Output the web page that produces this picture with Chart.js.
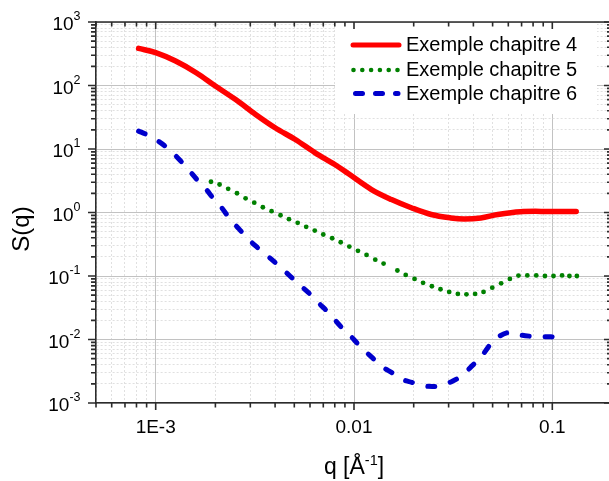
<!DOCTYPE html>
<html>
<head>
<meta charset="utf-8">
<script src="https://cdn.jsdelivr.net/npm/chart.js@4.4.0/dist/chart.umd.min.js"></script>
<style>
html, body { margin: 0; padding: 0; overflow: hidden; background: #fff; }
canvas { display: block; }
</style>
</head>
<body>
<canvas id="sq" width="616" height="481"></canvas>
<script>
// Exemple chapitre 4 (solid red)
const q4 = [8.2e-4, 1.0e-3, 1.26e-3, 1.6e-3, 2.0e-3, 2.53e-3, 3.19e-3, 4.0e-3, 5.06e-3, 6.37e-3, 8.0e-3, 9.35e-3,
            0.01225, 0.01545, 0.01945, 0.0245, 0.0308, 0.036, 0.0436, 0.053, 0.069, 0.098, 0.132];
const s4 = [385, 329, 243, 159, 98, 60, 35, 21.6, 14.1, 8.7, 5.7, 4.1,
            2.30, 1.60, 1.19, 0.93, 0.82, 0.79, 0.82, 0.93, 1.03, 1.04, 1.04];

// Exemple chapitre 5 (green dots)
const q5 = [1.9e-3, 2.1e-3, 2.32e-3, 2.57e-3, 2.84e-3, 3.14e-3, 3.47e-3, 3.84e-3, 4.26e-3, 4.7e-3, 5.2e-3, 5.74e-3,
            6.34e-3, 7.0e-3, 7.76e-3, 8.57e-3, 9.47e-3, 0.01047, 0.01157, 0.0128, 0.0141, 0.01655, 0.01823, 0.0202,
            0.0223, 0.0247, 0.0273, 0.0302, 0.0334, 0.0369, 0.0408, 0.045, 0.0498, 0.0552, 0.0611, 0.0675, 0.0748,
            0.083, 0.0918, 0.1014, 0.112, 0.122, 0.133];
const s5 = [3.05, 2.76, 2.36, 2.01, 1.67, 1.43, 1.21, 1.05, 0.905, 0.785, 0.687, 0.594,
            0.52, 0.45, 0.393, 0.34, 0.291, 0.249, 0.215, 0.181, 0.157, 0.122, 0.104, 0.090,
            0.078, 0.069, 0.0618, 0.0562, 0.0523, 0.0515, 0.0523, 0.0562, 0.0656, 0.0767, 0.090, 0.1016, 0.102,
            0.102, 0.10, 0.10, 0.102, 0.10, 0.10];

// Exemple chapitre 6 (blue dashes)
const q6 = [8.2e-4, 8.95e-4, 1.03e-3, 1.14e-3, 1.315e-3, 1.435e-3, 1.625e-3, 1.77e-3, 1.99e-3, 2.15e-3, 2.40e-3, 2.63e-3,
            2.98e-3, 3.31e-3, 3.76e-3, 4.17e-3, 4.77e-3, 5.26e-3, 5.97e-3, 6.55e-3, 7.38e-3, 8.13e-3, 9.02e-3, 9.93e-3,
            0.0110, 0.01189, 0.01312, 0.01418, 0.01545, 0.0172, 0.0196, 0.0218, 0.0248, 0.0275, 0.0315, 0.0349,
            0.0396, 0.044, 0.0486, 0.054, 0.0618, 0.068, 0.0787, 0.0867, 0.0987, 0.106];
const s6 = [19.1, 17.0, 13.3, 10.5, 6.84, 5.07, 3.23, 2.45, 1.55, 1.19, 0.748, 0.553,
            0.361, 0.270, 0.193, 0.146, 0.099, 0.075, 0.0528, 0.039, 0.0272, 0.0193, 0.01346, 0.0102,
            7.1e-3, 5.77e-3, 4.37e-3, 3.56e-3, 3.03e-3, 2.41e-3, 2.11e-3, 1.89e-3, 1.82e-3, 1.89e-3, 2.22e-3, 2.69e-3,
            3.91e-3, 5.42e-3, 8.3e-3, 0.0112, 0.01297, 0.0119, 0.0112, 0.011, 0.011, 0.0103];

const xRange = [5e-4, 0.2];
const yRange = [1e-3, 1e3];
const xTickValues = [0.001, 0.01, 0.1];
const xTickLabels = ['1E-3', '0.01', '0.1'];
const yExponents = [-3, -2, -1, 0, 1, 2, 3];
const legendLabels = ['Exemple chapitre 4', 'Exemple chapitre 5', 'Exemple chapitre 6'];

const FONT = '"Liberation Sans", Arial, sans-serif';
const RED = '#ff0000', GREEN = '#008000', BLUE = '#0000cc';

function pairs(qs, ss) {
    return qs.map((q, i) => ({x: q, y: ss[i]}));
}

// 1..9 x 10^n ticks, the 1 x 10^n ones are major
function logTicks(min, max) {
    const ticks = [];
    for (let e = Math.floor(Math.log10(min)); e <= Math.ceil(Math.log10(max)); e++) {
        for (let m = 1; m <= 9; m++) {
            const v = +(m * Math.pow(10, e)).toPrecision(3);
            if (v >= min * 0.999 && v <= max * 1.001) ticks.push({value: v, major: m === 1});
        }
    }
    return ticks;
}

const gridColor = (c) => (c.tick && c.tick.major) ? '#c2c2c2' : '#e0e0e0';
const gridDash = (c) => (c.tick && c.tick.major) ? [] : [2, 2];

const decor = {
    id: 'decor',
    afterDatasetsDraw(chart) {
        const ctx = chart.ctx;
        const a = chart.chartArea;
        // legend, white box over the grid
        const lx = a.left + 239, ly = a.top + 1;
        ctx.save();
        ctx.fillStyle = '#fff';
        ctx.fillRect(lx, ly, 262, 91);
        const sx0 = lx + 17, sx1 = lx + 65;
        const rows = [ly + 22, ly + 47, ly + 70.5];
        ctx.lineCap = 'round';
        ctx.strokeStyle = RED;
        ctx.lineWidth = 5;
        ctx.beginPath(); ctx.moveTo(sx0 + 1, rows[0]); ctx.lineTo(sx1 - 1, rows[0]); ctx.stroke();
        ctx.fillStyle = GREEN;
        for (let i = 0; i < 6; i++) {
            ctx.beginPath(); ctx.arc(sx0 + 1.5 + i * 8.8, rows[1], 2.3, 0, Math.PI * 2); ctx.fill();
        }
        ctx.strokeStyle = BLUE;
        ctx.setLineDash([7, 13]);
        ctx.beginPath(); ctx.moveTo(sx0 + 3.5, rows[2]); ctx.lineTo(sx1 - 2, rows[2]); ctx.stroke();
        ctx.setLineDash([]);
        ctx.fillStyle = '#000';
        ctx.font = '20px ' + FONT;
        ctx.textBaseline = 'middle';
        legendLabels.forEach((t, i) => ctx.fillText(t, sx1 + 6, rows[i] + 0.5));
        ctx.restore();
    },
    afterDraw(chart) {
        const ctx = chart.ctx;
        const a = chart.chartArea;
        const {x, y} = chart.scales;
        ctx.save();
        ctx.strokeStyle = '#2b2b2b';
        ctx.lineWidth = 1.6;
        // top and right frame
        ctx.beginPath();
        ctx.moveTo(a.left, a.top); ctx.lineTo(a.right, a.top); ctx.lineTo(a.right, a.bottom);
        ctx.stroke();
        ctx.beginPath();
        x.ticks.forEach(t => {
            const px = x.getPixelForValue(t.value);
            const lo = t.major ? 7 : 4.5;
            ctx.moveTo(px, a.bottom); ctx.lineTo(px, a.bottom + lo);
            ctx.moveTo(px, a.top); ctx.lineTo(px, a.top + lo);
        });
        y.ticks.forEach(t => {
            const py = y.getPixelForValue(t.value);
            const lo = t.major ? 8 : 5;
            ctx.moveTo(a.left, py); ctx.lineTo(a.left - lo, py);
            ctx.moveTo(a.right, py); ctx.lineTo(a.right - lo, py);
        });
        ctx.stroke();

        ctx.fillStyle = '#000';
        // x tick labels
        ctx.font = '19px ' + FONT;
        ctx.textAlign = 'center';
        ctx.textBaseline = 'alphabetic';
        xTickValues.forEach((v, i) => ctx.fillText(xTickLabels[i], x.getPixelForValue(v), a.bottom + 30));
        // y tick labels 10^n
        ctx.textAlign = 'left';
        const big = '19px ' + FONT, small = '12.5px ' + FONT;
        yExponents.forEach(e => {
            const py = y.getPixelForValue(Math.pow(10, e));
            const es = e < 0 ? '-' + (-e) : String(e);
            ctx.font = small;
            const ew = ctx.measureText(es).width;
            ctx.font = big;
            const bw = ctx.measureText('10').width;
            const right = a.left - 15.5;
            ctx.fillText('10', right - ew - bw, py + 8);
            ctx.font = small;
            ctx.fillText(es, right - ew, py - 2);
        });
        // x title  q [Å^-1]
        const tb = '23px ' + FONT, ts = '14.5px ' + FONT;
        ctx.font = tb;
        const w1 = ctx.measureText('q [Å').width, w3 = ctx.measureText(']').width;
        ctx.font = ts;
        const w2 = ctx.measureText('-1').width;
        let tx = (a.left + a.right) / 2 - (w1 + w2 + w3) / 2;
        const tyb = a.bottom + 71;
        ctx.font = tb; ctx.fillText('q [Å', tx, tyb);
        ctx.font = ts; ctx.fillText('-1', tx + w1, tyb - 9);
        ctx.font = tb; ctx.fillText(']', tx + w1 + w2, tyb);
        // y title
        ctx.translate(a.left - 74, 229);
        ctx.rotate(-Math.PI / 2);
        ctx.font = '24px ' + FONT;
        ctx.textAlign = 'center';
        ctx.textBaseline = 'middle';
        ctx.fillText('S(q)', 0, 0);
        ctx.restore();
    }
};

const config = {
    type: 'line',
    data: {
        datasets: [{
            label: legendLabels[0],
            data: pairs(q4, s4),
            borderColor: RED,
            borderWidth: 5.5,
            borderCapStyle: 'round',
            borderJoinStyle: 'round',
            tension: 0.35,
            pointRadius: 0
        }, {
            label: legendLabels[1],
            data: pairs(q5, s5),
            showLine: false,
            pointRadius: 2.4,
            pointBorderWidth: 0,
            pointBackgroundColor: GREEN,
            borderColor: GREEN
        }, {
            label: legendLabels[2],
            data: pairs(q6, s6),
            borderColor: BLUE,
            borderWidth: 5,
            borderDash: [7, 16],
            borderCapStyle: 'round',
            borderJoinStyle: 'round',
            cubicInterpolationMode: 'monotone',
            pointRadius: 0
        }]
    },
    options: {
        responsive: false,
        animation: false,
        devicePixelRatio: 1,
        layout: { padding: { top: 22, right: 1, left: 0, bottom: 0 } },
        plugins: { legend: { display: false }, tooltip: { enabled: false } },
        scales: {
            x: {
                type: 'logarithmic',
                min: xRange[0],
                max: xRange[1],
                afterBuildTicks: (s) => { s.ticks = logTicks(xRange[0], xRange[1]); },
                afterFit: (s) => { s.height = 78; },
                ticks: { display: false, autoSkip: false },
                grid: { color: gridColor, lineWidth: 1, drawTicks: false },
                border: { display: true, color: '#2b2b2b', width: 1.6, dash: gridDash }
            },
            y: {
                type: 'logarithmic',
                min: yRange[0],
                max: yRange[1],
                afterBuildTicks: (s) => { s.ticks = logTicks(yRange[0], yRange[1]); },
                afterFit: (s) => { s.width = 96; },
                ticks: { display: false, autoSkip: false },
                grid: { color: gridColor, lineWidth: 1, drawTicks: false },
                border: { display: true, color: '#2b2b2b', width: 1.6, dash: gridDash }
            }
        }
    },
    plugins: [decor]
};

new Chart(document.getElementById('sq'), config);
</script>
</body>
</html>
